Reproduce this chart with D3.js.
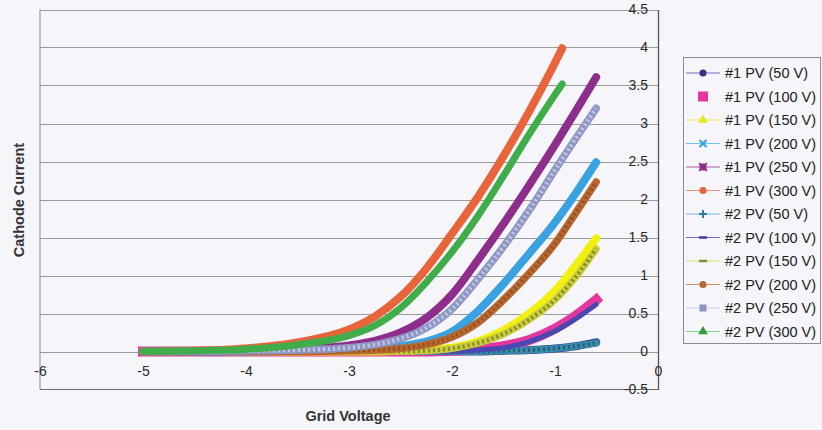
<!DOCTYPE html>
<html>
<head>
<meta charset="utf-8">
<script src="https://cdn.jsdelivr.net/npm/d3@7"></script>
<style>
  html, body { margin: 0; padding: 0; background: #f5f5fa; }
  svg { display: block; font-family: "Liberation Sans", Arial, sans-serif; }
</style>
</head>
<body>
<svg id="chart" width="822" height="430"></svg>
<script>
// ---------- data ----------
const xTicks = [-6, -5, -4, -3, -2, -1, 0];
const yTicks = [-0.5, 0, 0.5, 1, 1.5, 2, 2.5, 3, 3.5, 4, 4.5];

const seriesNames = ["#1 PV (50 V)", "#1 PV (100 V)", "#1 PV (150 V)", "#1 PV (200 V)", "#1 PV (250 V)", "#1 PV (300 V)",
                     "#2 PV (50 V)", "#2 PV (100 V)", "#2 PV (150 V)", "#2 PV (200 V)", "#2 PV (250 V)", "#2 PV (300 V)"];

const gridA = [-5, -4.5, -4, -3.5, -3, -2.75, -2.5, -2.25, -2, -1.75, -1.5, -1.25, -1, -0.8, -0.6];
const gridB = [-5, -4.5, -4, -3.5, -3, -2.75, -2.5, -2.25, -2, -1.75, -1.5, -1.25, -1, -0.93];

const pv1_50  = [0, 0, 0, 0, 0, 0, 0, 0, 0, 0, 0.01, 0.02, 0.04, 0.07, 0.12];
const pv1_100 = [0, 0, 0, 0, 0, 0, 0, 0, 0.01, 0.03, 0.07, 0.15, 0.30, 0.47, 0.68];
const pv1_150 = [0, 0, 0, 0, 0, 0, 0.01, 0.02, 0.05, 0.13, 0.28, 0.50, 0.80, 1.13, 1.49];
const pv1_200 = [0, 0, 0, 0.01, 0.02, 0.04, 0.07, 0.13, 0.26, 0.53, 0.89, 1.29, 1.70, 2.08, 2.49];
const pv1_250 = [0, 0, 0.01, 0.03, 0.08, 0.14, 0.25, 0.44, 0.75, 1.20, 1.68, 2.19, 2.72, 3.16, 3.61];
const pv1_300 = [0, 0.01, 0.04, 0.12, 0.29, 0.46, 0.72, 1.09, 1.55, 2.03, 2.57, 3.16, 3.80, 3.99];
const pv2_50  = [0, 0, 0, 0, 0, 0, 0, 0, 0, 0, 0.01, 0.02, 0.04, 0.07, 0.11];
const pv2_100 = [0, 0, 0, 0, 0, 0, 0, 0, 0, 0.02, 0.05, 0.13, 0.27, 0.43, 0.62];
const pv2_150 = [0, 0, 0, 0, 0, 0, 0, 0.01, 0.04, 0.11, 0.23, 0.42, 0.68, 0.98, 1.35];
const pv2_200 = [0, 0, 0, 0, 0.01, 0.02, 0.04, 0.09, 0.19, 0.38, 0.68, 1.03, 1.42, 1.82, 2.23];
const pv2_250 = [0, 0, 0.01, 0.02, 0.05, 0.09, 0.17, 0.31, 0.56, 0.95, 1.38, 1.86, 2.39, 2.80, 3.20];
const pv2_300 = [0, 0.01, 0.03, 0.09, 0.21, 0.34, 0.57, 0.91, 1.31, 1.78, 2.31, 2.86, 3.38, 3.52];

const seriesValues = [pv1_50, pv1_100, pv1_150, pv1_200, pv1_250, pv1_300, pv2_50, pv2_100, pv2_150, pv2_200, pv2_250, pv2_300];
const seriesGrids  = [gridA, gridA, gridA, gridA, gridA, gridB, gridA, gridA, gridA, gridA, gridA, gridB];

// ---------- styles ----------
const styles = [
  {color: "#34428e", width: 8,  legendLine: "#7070c0", marker: "circle",   mcolor: "#33337f"},
  {color: "#e4369c", width: 10, legendLine: null,      marker: "square",   mcolor: "#e4369c", cap: "square"},
  {color: "#f2f010", width: 8,  legendLine: "#eeee50", marker: "triangle", mcolor: "#e8e820"},
  {color: "#3aa2e0", width: 8,  legendLine: "#70c0f0", marker: "x",        mcolor: "#3aa2e0"},
  {color: "#8e2e8c", width: 8,  legendLine: "#b060b0", marker: "boxx",     mcolor: "#8e2e8c"},
  {color: "#e8643a", width: 8,  legendLine: "#f09070", marker: "circle",   mcolor: "#e8643a"},
  {color: "#3a8aaa", width: 7,  legendLine: "#70b8d8", marker: "plus",     mcolor: "#2e7e9e", dash: "#1f4f6a"},
  {color: "#4a48b0", width: 5,  legendLine: "#6a6ac8", marker: "dash",     mcolor: "#3a3aa8"},
  {color: "#c8cc38", width: 7,  legendLine: "#d8e070", marker: "dash",     mcolor: "#8a8a30", dash: "#6e6e2a"},
  {color: "#b8682e", width: 7.5,legendLine: "#c88a70", marker: "circle",   mcolor: "#b8682e", dash: "#8a4a20"},
  {color: "#8e96c4", width: 7.5,legendLine: "#c8cce0", marker: "square",   mcolor: "#8a92c0", dash: "#d4d8ec"},
  {color: "#3fae4a", width: 7,  legendLine: "#80d090", marker: "triangle", mcolor: "#2e9e3a"}
];

// ---------- chart ----------
const svg = d3.select("#chart");
const x = d3.scaleLinear().domain([-6, 0]).range([40, 658]);
const y = d3.scaleLinear().domain([-0.5, 4.5]).range([389.5, 9.5]);

// plot border (left)
svg.append("line").attr("x1", 40).attr("x2", 40).attr("y1", y(4.5)).attr("y2", y(-0.5))
  .attr("stroke", "#8a8a8a").attr("stroke-width", 1);

// gridlines
svg.append("g").selectAll("line").data(yTicks.filter(d => d > -0.5)).join("line")
  .attr("x1", 40).attr("x2", 658)
  .attr("y1", d => Math.round(y(d)) + 0.5).attr("y2", d => Math.round(y(d)) + 0.5)
  .attr("stroke", "#9a9a9a").attr("stroke-width", 1);

// bottom axis line (at -0.5)
svg.append("line").attr("x1", 40).attr("x2", 658).attr("y1", y(-0.5)).attr("y2", y(-0.5))
  .attr("stroke", "#6a6a6a").attr("stroke-width", 1.2);

// series
const line = d3.line().x(d => x(d[0])).y(d => y(d[1])).curve(d3.curveMonotoneX);
const gSeries = svg.append("g");
seriesValues.forEach((vals, i) => {
  const pts = vals.map((v, j) => [seriesGrids[i][j], v]);
  const st = styles[i];
  gSeries.append("path").attr("d", line(pts)).attr("fill", "none")
    .attr("stroke", st.color).attr("stroke-width", st.width)
    .attr("stroke-linecap", st.cap || "round").attr("stroke-linejoin", "round");
  if (st.dash) {
    gSeries.append("path").attr("d", line(pts)).attr("fill", "none")
      .attr("stroke", st.dash).attr("stroke-width", st.width * 0.55)
      .attr("stroke-dasharray", "2,3").attr("opacity", 0.75);
  }
});

// y axis on the right (crossing at x = 0)
const yAxis = d3.axisLeft(y).tickValues(yTicks).tickSize(0).tickPadding(10).tickFormat(d => String(d));
const gy = svg.append("g").attr("transform", `translate(${x(0)},0)`).call(yAxis);
gy.select(".domain").attr("stroke", "#555").attr("stroke-width", 1.3);
gy.selectAll("text").attr("font-size", 14).attr("fill", "#2a2a2a")
  .attr("font-family", "'Liberation Sans', Arial, sans-serif");

// x axis labels (below y = 0)
const xAxis = d3.axisBottom(x).tickValues(xTicks).tickSize(0).tickPadding(15).tickFormat(d => String(d));
const gx = svg.append("g").attr("transform", `translate(0,${y(0)})`).call(xAxis);
gx.select(".domain").remove();
gx.selectAll("text").attr("font-size", 14).attr("fill", "#2a2a2a")
  .attr("font-family", "'Liberation Sans', Arial, sans-serif");

// axis titles
svg.append("text").attr("x", 348).attr("y", 421).attr("text-anchor", "middle")
  .attr("font-size", 14.5).attr("font-weight", "bold").attr("fill", "#333").text("Grid Voltage");
svg.append("text").attr("transform", "translate(19,200) rotate(-90)").attr("text-anchor", "middle")
  .attr("dominant-baseline", "central")
  .attr("font-size", 14.5).attr("font-weight", "bold").attr("fill", "#333").text("Cathode Current");

// ---------- legend ----------
const lg = svg.append("g");
lg.append("rect").attr("x", 683.5).attr("y", 57.5).attr("width", 137).attr("height", 286)
  .attr("fill", "none").attr("stroke", "#8a8a9a").attr("stroke-width", 1);
const ly = d3.scaleLinear().domain([0, 11]).range([73, 331.5]);
seriesNames.forEach((name, i) => {
  const st = styles[i];
  const cy = ly(i);
  const g = lg.append("g").attr("transform", `translate(0,${cy})`);
  if (st.legendLine) {
    g.append("line").attr("x1", 686).attr("x2", 720).attr("y1", 0).attr("y2", 0)
      .attr("stroke", st.legendLine).attr("stroke-width", 1.2);
  }
  const mx = 703;
  const m = st.marker;
  if (m === "circle") {
    g.append("circle").attr("cx", mx).attr("cy", 0).attr("r", 3.6).attr("fill", st.mcolor);
  } else if (m === "square") {
    const s = i === 1 ? 10 : 7;
    g.append("rect").attr("x", mx - s / 2).attr("y", -s / 2).attr("width", s).attr("height", s).attr("fill", st.mcolor);
  } else if (m === "triangle") {
    g.append("path").attr("d", d3.symbol(d3.symbolTriangle, 40)()).attr("transform", `translate(${mx},0)`).attr("fill", st.mcolor);
  } else if (m === "x") {
    g.append("path").attr("d", "M-3.5,-3.5L3.5,3.5M-3.5,3.5L3.5,-3.5").attr("transform", `translate(${mx},0)`)
      .attr("stroke", st.mcolor).attr("stroke-width", 2.2);
  } else if (m === "boxx") {
    g.append("rect").attr("x", mx - 3.5).attr("y", -3.5).attr("width", 7).attr("height", 7).attr("fill", st.mcolor);
    g.append("path").attr("d", "M-4,-4L4,4M-4,4L4,-4").attr("transform", `translate(${mx},0)`)
      .attr("stroke", st.mcolor).attr("stroke-width", 1.5);
  } else if (m === "plus") {
    g.append("path").attr("d", "M-4,0L4,0M0,-4L0,4").attr("transform", `translate(${mx},0)`)
      .attr("stroke", st.mcolor).attr("stroke-width", 2);
  } else if (m === "dash") {
    g.append("line").attr("x1", mx - 4).attr("x2", mx + 4).attr("y1", 0).attr("y2", 0)
      .attr("stroke", st.mcolor).attr("stroke-width", 2.5);
  }
  g.append("text").attr("x", 725).attr("y", 0).attr("dominant-baseline", "central")
    .attr("font-size", 14.5).attr("fill", "#222").text(name);
});
</script>
</body>
</html>
